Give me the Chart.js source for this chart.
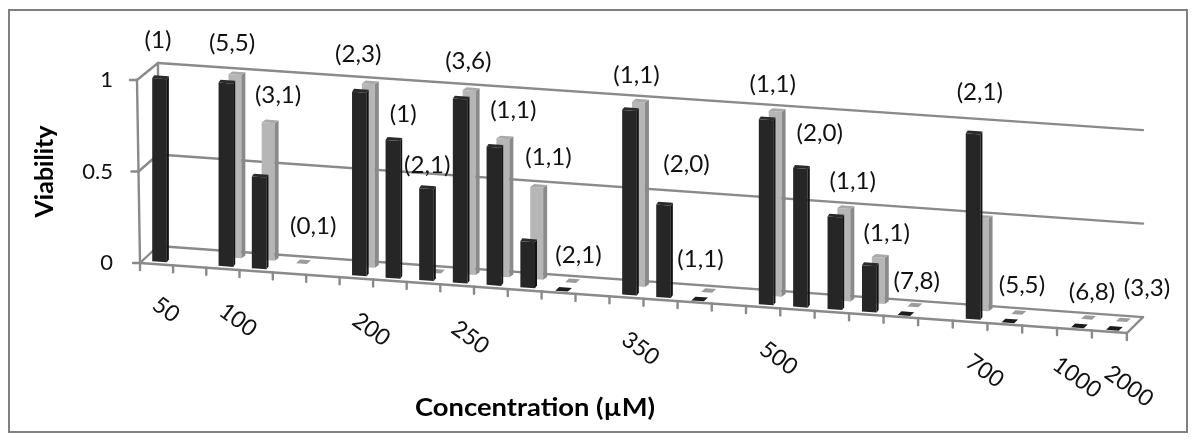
<!DOCTYPE html>
<html>
<head>
<meta charset="utf-8">
<style>html,body{margin:0;padding:0;background:#fff}canvas{display:block}</style>
<script src="https://cdn.jsdelivr.net/npm/chart.js@4"></script>
</head>
<body>
<canvas id="c" width="1200" height="445"></canvas>
<script>
const categories = ['50','','100','','','','200','','','250','','','','','350','','','','500','','','','','','700','','','1000','2000'];
const frontSeries = [1,null,1,0.5,null,null,1,0.75,0.5,1,0.75,0.25,0,null,1,0.5,0,null,1,0.75,0.5,0.25,0,null,1,0,null,0,0];
const backSeries  = [null,null,1,0.75,0,null,1,null,0,1,0.75,0.5,0,null,1,null,0,null,1,null,0.5,0.25,0,null,0.5,0,null,0,0];
const noteTexts = ['(1)',null,'(5,5)','(3,1)','(0,1)',null,'(2,3)','(1)','(2,1)','(3,6)','(1,1)','(1,1)','(2,1)',null,'(1,1)','(2,0)','(1,1)',null,'(1,1)','(2,0)','(1,1)','(1,1)','(7,8)',null,'(2,1)','(5,5)',null,'(6,8)','(3,3)'];
const yTicks = [0,0.5,1];
const xTitle = 'Concentration (µM)';
const yTitle = 'Viability';

// layout only: [dx from category centre, y] for each annotation
const noteLayout = {0:[1,41],2:[7,44],3:[19,96],4:[20,227],6:[-3,55],7:[8,115],8:[-2,166],9:[5,62],10:[16,111],11:[17,158],12:[13,256],14:[3,76],15:[19,165],16:[-1,260],18:[3,85],19:[16,134],20:[15,182],21:[15,234],22:[11,282],24:[6,93],25:[14,286],27:[16,293],28:[37,289]};
const tickNudge = {0:[9,45],2:[13,50],6:[10,50],9:[7,51],14:[7,50],18:[9,50],24:[11,48],27:[1,48],28:[19,53]};
const SK = 0.0709, DEPTH_Y = 17, FONT = 'Lato, "Open Sans", sans-serif', LINE = '#8a8a8a';
const look = [
  {dx:3, dy:-2.5, d:2, h:3, front:'#262626', side:'#121212', top:'#2a2a2a', dash:'#1c1c1c'},
  {dx:12, dy:-11, d:4, h:3, front:'#b6b6b6', side:'#8a8a8a', top:'#a9a9a9', dash:'#9c9c9c'}
];
// gentle perspective of the 3-D view: slots widen and bars grow toward the right
const warp = (px,a) => { const w=(a.right-a.left)/categories.length, i=(px-a.left)/w; return a.left+33.07*i+0.0331*i*i; };
const hText = (c,t,x,y,sx) => { c.save(); c.translate(x,y); c.scale(sx,1); c.fillText(t,0,0); c.restore(); };

const stage = {
  id:'stage',
  afterDatasetsUpdate(chart){
    const a=chart.chartArea;
    [0,1].forEach(k=>{
      chart.getDatasetMeta(k).data.forEach(el=>{
        const t=(el.x-a.left)/(a.right-a.left);
        el.x=warp(el.x,a);
        el.y=el.base-(el.base-el.y)*(1+0.016*t);
      });
    });
  },
  beforeDraw(chart){
    const c = chart.ctx;
    c.save(); c.fillStyle='#fff'; c.fillRect(0,0,chart.width,chart.height);
    c.strokeStyle='#808080'; c.lineWidth=2; c.strokeRect(9,10,1178,422); c.restore();
  },
  beforeDatasetsDraw(chart){
    const c = chart.ctx, a = chart.chartArea, y = chart.scales.y;
    const L = a.left, R = a.right, fy = v => y.getPixelForValue(v);
    c.save(); c.strokeStyle=LINE; c.lineWidth=2.4; c.lineCap='round';
    const seg=(x0,y0,x1,y1)=>{c.beginPath();c.moveTo(x0,y0);c.lineTo(x1,y1);c.stroke();};
    const skew = v => SK*(v-L);
    const bx0=L+18, bx1=R+16;
    yTicks.forEach(v=>{
      const p=fy(v), lx = L-3+3*(1-v);
      seg(bx0,p-DEPTH_Y,bx1,p-DEPTH_Y+(SK-0.004*v)*(bx1-L));
      seg(lx,p,bx0,p-DEPTH_Y);
      seg(lx-7,p,lx,p);
    });
    seg(L-3,fy(1),L,fy(0));
    seg(bx0,fy(1)-DEPTH_Y,bx0,fy(0)-DEPTH_Y);
    seg(L,fy(0),R,fy(0)+skew(R));
    seg(R,fy(0)+skew(R),bx1,fy(0)-DEPTH_Y+SK*(bx1-L));
    const n=categories.length, W=R-L;
    for(let i=0;i<=n;i++){
      const tx=warp(L+W*i/n,a), ty=fy(0)+skew(tx);
      seg(tx,ty,tx,ty+7);
    }
    c.restore();
  },
  beforeDatasetDraw(chart,args){
    const s=look[args.index], c=chart.ctx, L=chart.chartArea.left;
    c.save();
    c.transform(1,SK,0,1,s.dx,s.dy-SK*L);
  },
  afterDatasetDraw(chart,args){
    const s=look[args.index], c=chart.ctx, meta=chart.getDatasetMeta(args.index), vals=chart.data.datasets[args.index].data;
    meta.data.forEach((el,i)=>{
      if(vals[i]===null) return;
      const l=el.x-el.width/2, r=el.x+el.width/2;
      if(vals[i]===0){
        // a zero value shows only the bar's top face
        c.fillStyle=s.dash; c.beginPath();
        c.moveTo(l+1,el.y+1);c.lineTo(l+5,el.y-3);c.lineTo(r+3,el.y-3);c.lineTo(r-1,el.y+1);c.closePath();c.fill();
        return;
      }
      c.fillStyle=s.side; c.beginPath();
      c.moveTo(r,el.y);c.lineTo(r+s.d,el.y-s.h);c.lineTo(r+s.d,el.base-s.h);c.lineTo(r,el.base);c.closePath();c.fill();
      c.fillStyle=s.top; c.beginPath();
      c.moveTo(l,el.y);c.lineTo(l+s.d,el.y-s.h);c.lineTo(r+s.d,el.y-s.h);c.lineTo(r,el.y);c.closePath();c.fill();
    });
    c.restore();
  },
  afterDraw(chart){
    const c=chart.ctx, x=chart.scales.x, y=chart.scales.y, L=chart.chartArea.left;
    c.save(); c.textAlign='center'; c.textBaseline='middle'; c.fillStyle='#111';
    c.font='23px '+FONT;
    noteTexts.forEach((t,i)=>{
      if(!t) return;
      const o=noteLayout[i];
      hText(c,t,x.getPixelForValue(i)+o[0],o[1],1.05);
    });
    c.font='23px '+FONT;
    categories.forEach((t,i)=>{
      if(!t) return;
      const o=tickNudge[i], px=x.getPixelForValue(i);
      c.save();
      c.translate(px+o[0], y.getPixelForValue(0)+SK*(px+o[0]-L)+o[1]);
      c.rotate(36*Math.PI/180);
      c.fillText(t,0,0);
      c.restore();
    });
    c.font='bold 24px '+FONT; c.fillStyle='#000';
    hText(c,xTitle,535,408,1.14);
    c.restore();
  }
};

new Chart(document.getElementById('c'),{
  type:'bar',
  data:{labels:categories,datasets:[
    {label:'Front',data:frontSeries,backgroundColor:look[0].front,grouped:false,barPercentage:0.43,categoryPercentage:1,clip:false,borderWidth:0},
    {label:'Back',data:backSeries,backgroundColor:look[1].front,grouped:false,barPercentage:0.38,categoryPercentage:1,clip:false,borderWidth:0}
  ]},
  plugins:[stage],
  options:{
    responsive:false,animation:false,
    layout:{padding:{top:80,left:0,right:73,bottom:0}},
    plugins:{legend:{display:false},tooltip:{enabled:false}},
    scales:{
      x:{grid:{display:false},border:{display:false},ticks:{display:false},afterFit(s){s.height=182;}},
      y:{min:0,max:1,
        afterBuildTicks(s){s.ticks=yTicks.map(v=>({value:v}));},
        afterFit(s){s.width=140;},
        grid:{display:false},border:{display:false},
        ticks:{padding:19,color:'#111',font:{family:FONT,size:22},callback:v=>String(v)},
        title:{display:true,text:yTitle,color:'#000',font:{family:FONT,size:25,weight:'bold'},padding:{top:30,bottom:0}}
      }
    }
  }
});
</script>
</body>
</html>
